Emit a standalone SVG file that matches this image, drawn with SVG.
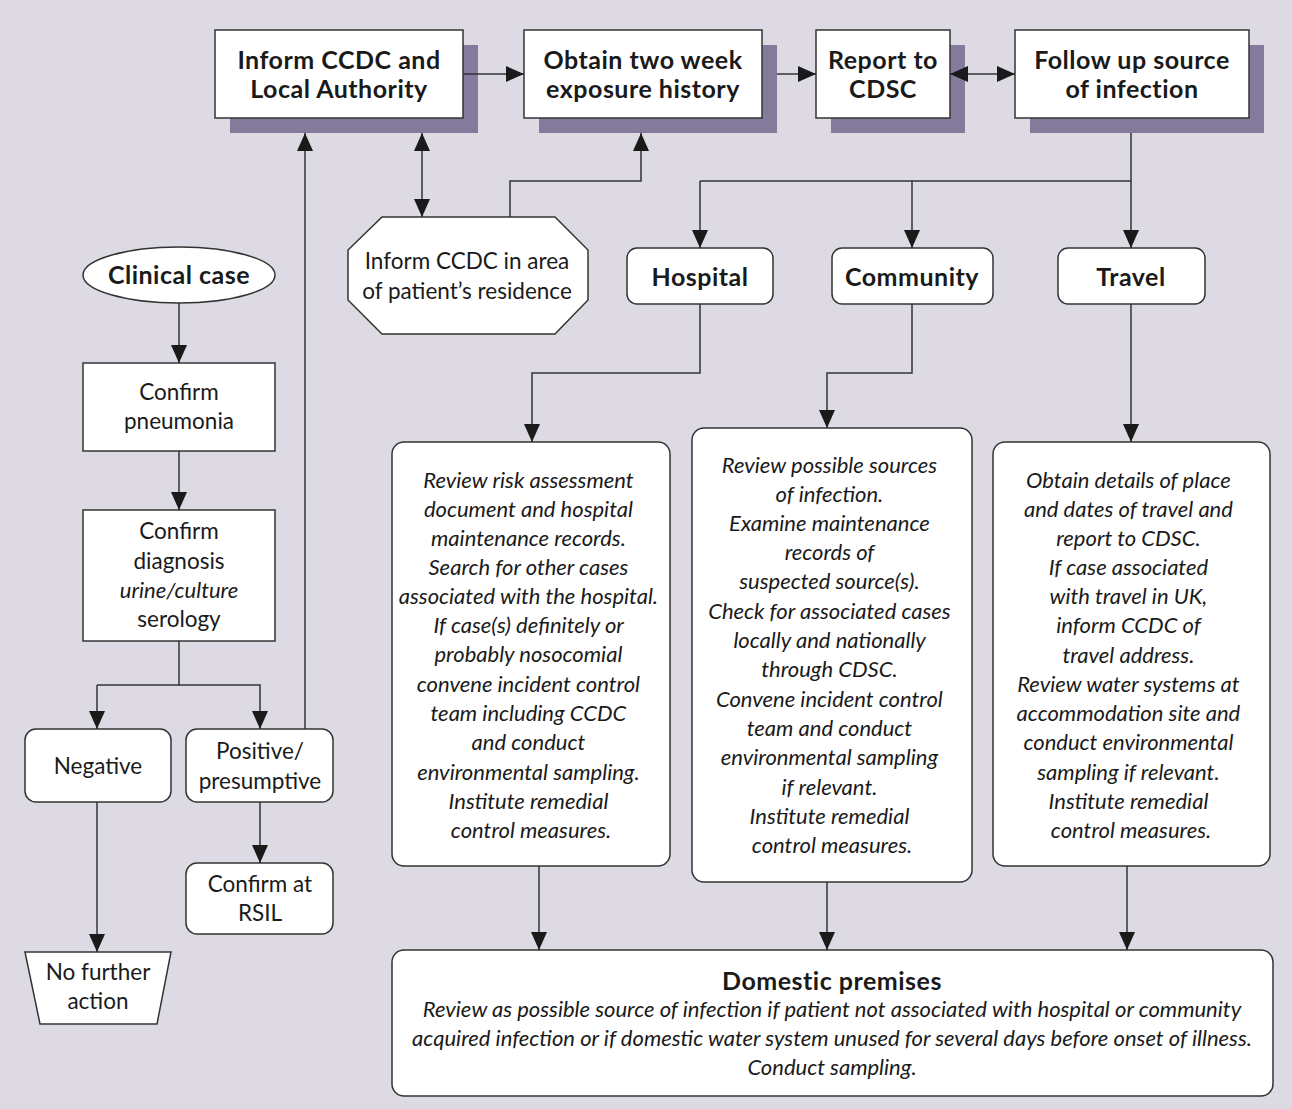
<svg xmlns="http://www.w3.org/2000/svg" width="1292" height="1109" viewBox="0 0 1292 1109">
<defs>
<marker id="ah" markerUnits="userSpaceOnUse" markerWidth="18" markerHeight="16" refX="18" refY="8" orient="auto-start-reverse">
<path d="M0,0 L18,8 L0,16 z" fill="#1a1a1a"/>
</marker>
</defs>
<style>
.box{fill:#fff;stroke:#333;stroke-width:1.5}
.sh{fill:#847a9b}
.ln{fill:none;stroke:#333;stroke-width:1.5}
.ar{fill:none;stroke:#333;stroke-width:1.5;marker-end:url(#ah)}
.ar2{fill:none;stroke:#333;stroke-width:1.5;marker-end:url(#ah);marker-start:url(#ah)}
text{font-family:Lato,"Open Sans","Liberation Sans",sans-serif;fill:#1a1a1a;text-anchor:middle}
.b{font-weight:bold;font-size:25px;letter-spacing:0.5px}
.r{font-size:22.5px}
.i{font-style:italic;font-size:22px}
</style>
<rect x="0" y="0" width="1292" height="1109" fill="#dddae4"/>

<g id="inform-ccdc-la">
<rect class="sh" x="230" y="45" width="248" height="88"/>
<rect class="box" x="215" y="30" width="248" height="88"/>
<text class="b" x="339" y="69">Inform CCDC and</text>
<text class="b" x="339" y="98">Local Authority</text>
</g>
<g id="obtain-history">
<rect class="sh" x="539" y="45" width="238" height="88"/>
<rect class="box" x="524" y="30" width="238" height="88"/>
<text class="b" x="643" y="69">Obtain two week</text>
<text class="b" x="643" y="98">exposure history</text>
</g>
<g id="report-cdsc">
<rect class="sh" x="831" y="45" width="134" height="88"/>
<rect class="box" x="816" y="30" width="134" height="88"/>
<text class="b" x="883" y="69">Report to</text>
<text class="b" x="883" y="98">CDSC</text>
</g>
<g id="follow-up">
<rect class="sh" x="1030" y="45" width="234" height="88"/>
<rect class="box" x="1015" y="30" width="234" height="88"/>
<text class="b" x="1132" y="69">Follow up source</text>
<text class="b" x="1132" y="98">of infection</text>
</g>

<g id="inform-residence">
<polygon class="box" points="382,217 555,217 588,250 588,300 555,334 382,334 348,300 348,250"/>
<text class="r" x="467" y="269">Inform CCDC in area</text>
<text class="r" x="467" y="299">of patient’s residence</text>
</g>

<g id="hospital">
<rect class="box" x="627" y="248" width="146" height="56" rx="10"/>
<text class="b" x="700" y="286">Hospital</text>
</g>
<g id="community">
<rect class="box" x="832" y="248" width="161" height="56" rx="10"/>
<text class="b" x="912" y="286">Community</text>
</g>
<g id="travel">
<rect class="box" x="1058" y="248" width="147" height="56" rx="10"/>
<text class="b" x="1131" y="286">Travel</text>
</g>

<g id="hospital-detail">
<rect class="box" x="392" y="442" width="278" height="424" rx="12"/>
<text class="i" x="531">
<tspan x="531" y="488">Review risk assessment</tspan>
<tspan x="531" y="517">document and hospital</tspan>
<tspan x="531" y="546">maintenance records.</tspan>
<tspan x="531" y="575">Search for other cases</tspan>
<tspan x="531" y="604">associated with the hospital.</tspan>
<tspan x="531" y="633">If case(s) definitely or</tspan>
<tspan x="531" y="662">probably nosocomial</tspan>
<tspan x="531" y="692">convene incident control</tspan>
<tspan x="531" y="721">team including CCDC</tspan>
<tspan x="531" y="750">and conduct</tspan>
<tspan x="531" y="780">environmental sampling.</tspan>
<tspan x="531" y="809">Institute remedial</tspan>
<tspan x="531" y="838">control measures.</tspan>
</text>
</g>

<g id="community-detail">
<rect class="box" x="692" y="428" width="280" height="454" rx="12"/>
<text class="i" x="832">
<tspan x="832" y="473">Review possible sources</tspan>
<tspan x="832" y="502">of infection.</tspan>
<tspan x="832" y="531">Examine maintenance</tspan>
<tspan x="832" y="560">records of</tspan>
<tspan x="832" y="589">suspected source(s).</tspan>
<tspan x="832" y="619">Check for associated cases</tspan>
<tspan x="832" y="648">locally and nationally</tspan>
<tspan x="832" y="677">through CDSC.</tspan>
<tspan x="832" y="707">Convene incident control</tspan>
<tspan x="832" y="736">team and conduct</tspan>
<tspan x="832" y="765">environmental sampling</tspan>
<tspan x="832" y="795">if relevant.</tspan>
<tspan x="832" y="824">Institute remedial</tspan>
<tspan x="832" y="853">control measures.</tspan>
</text>
</g>

<g id="travel-detail">
<rect class="box" x="993" y="442" width="277" height="424" rx="12"/>
<text class="i" x="1131">
<tspan x="1131" y="488">Obtain details of place</tspan>
<tspan x="1131" y="517">and dates of travel and</tspan>
<tspan x="1131" y="546">report to CDSC.</tspan>
<tspan x="1131" y="575">If case associated</tspan>
<tspan x="1131" y="604">with travel in UK,</tspan>
<tspan x="1131" y="633">inform CCDC of</tspan>
<tspan x="1131" y="663">travel address.</tspan>
<tspan x="1131" y="692">Review water systems at</tspan>
<tspan x="1131" y="721">accommodation site and</tspan>
<tspan x="1131" y="750">conduct environmental</tspan>
<tspan x="1131" y="780">sampling if relevant.</tspan>
<tspan x="1131" y="809">Institute remedial</tspan>
<tspan x="1131" y="838">control measures.</tspan>
</text>
</g>

<g id="domestic">
<rect class="box" x="392" y="950" width="881" height="146" rx="12"/>
<text class="b" x="832" y="990">Domestic premises</text>
<text class="i" x="832" y="1017">Review as possible source of infection if patient not associated with hospital or community</text>
<text class="i" x="832" y="1046">acquired infection or if domestic water system unused for several days before onset of illness.</text>
<text class="i" x="832" y="1075">Conduct sampling.</text>
</g>

<g id="clinical-case">
<ellipse class="box" cx="179" cy="275" rx="96" ry="28"/>
<text class="b" x="179" y="284">Clinical case</text>
</g>
<g id="confirm-pneumonia">
<rect class="box" x="83" y="363" width="192" height="88"/>
<text class="r" x="179" y="400">Confirm</text>
<text class="r" x="179" y="429">pneumonia</text>
</g>
<g id="confirm-diagnosis">
<rect class="box" x="83" y="510" width="192" height="131"/>
<text class="r" x="179" y="539">Confirm</text>
<text class="r" x="179" y="569">diagnosis</text>
<text class="i" x="179" y="598">urine/culture</text>
<text class="r" x="179" y="627">serology</text>
</g>
<g id="negative">
<rect class="box" x="25" y="729" width="146" height="73" rx="11"/>
<text class="r" x="98" y="774">Negative</text>
</g>
<g id="positive">
<rect class="box" x="186" y="729" width="147" height="73" rx="11"/>
<text class="r" x="260" y="759">Positive/</text>
<text class="r" x="260" y="789">presumptive</text>
</g>
<g id="confirm-rsil">
<rect class="box" x="186" y="863" width="147" height="71" rx="11"/>
<text class="r" x="260" y="892">Confirm at</text>
<text class="r" x="260" y="921">RSIL</text>
</g>
<g id="no-further-action">
<polygon class="box" points="25,952 171,952 157,1024 40,1024"/>
<text class="r" x="98" y="980">No further</text>
<text class="r" x="98" y="1009">action</text>
</g>

<g id="connectors">
<path class="ar" d="M463,74 H524"/>
<path class="ar" d="M777,74 H816"/>
<path class="ar2" d="M950,74 H1015"/>
<path class="ar2" d="M422,133 V217"/>
<path class="ar" d="M510,217 V181 H641 V133"/>
<path class="ln" d="M1131,133 V181 H700"/>
<path class="ar" d="M700,181 V248"/>
<path class="ar" d="M912,181 V248"/>
<path class="ar" d="M1131,181 V248"/>
<path class="ar" d="M700,304 V373 H532 V442"/>
<path class="ar" d="M912,304 V373 H827 V428"/>
<path class="ar" d="M1131,304 V442"/>
<path class="ar" d="M539,866 V950"/>
<path class="ar" d="M827,882 V950"/>
<path class="ar" d="M1127,866 V950"/>
<path class="ar" d="M179,303 V363"/>
<path class="ar" d="M179,451 V510"/>
<path class="ln" d="M179,641 V685 H97"/>
<path class="ar" d="M97,685 V729"/>
<path class="ar" d="M179,685 H260 V729"/>
<path class="ar" d="M305,729 V133"/>
<path class="ar" d="M260,802 V863"/>
<path class="ar" d="M97,802 V952"/>
</g>
</svg>
